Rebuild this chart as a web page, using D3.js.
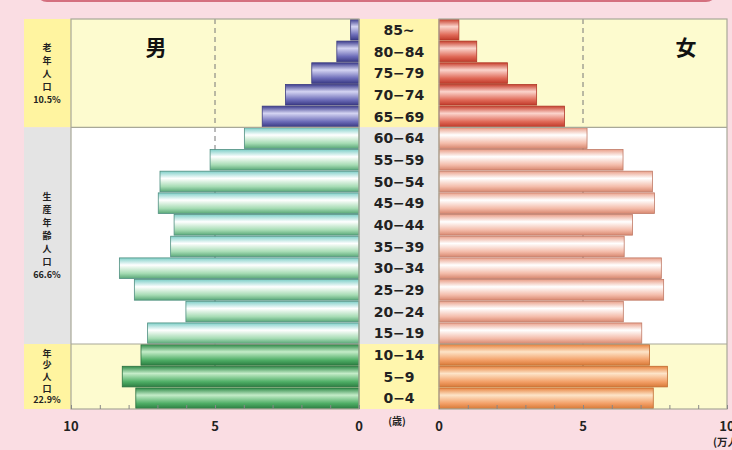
<!DOCTYPE html>
<html>
<head>
<meta charset="utf-8">
<script src="https://cdn.jsdelivr.net/npm/d3@7"></script>
<style>
  body { margin: 0; background: #fadde3; }
  svg { display: block; font-family: "Noto Sans CJK JP", "DejaVu Sans", sans-serif; }
</style>
</head>
<body>
<svg id="chart"></svg>
<script>
// age groups, oldest first (top to bottom)
const ages = ['85~', '80−84', '75−79', '70−74', '65−69', '60−64', '55−59', '50−54', '45−49',
  '40−44', '35−39', '30−34', '25−29', '20−24', '15−19', '10−14', '5−9', '0−4']
// population, 万人
const male = [0.29, 0.77, 1.64, 2.55, 3.36, 3.98, 5.17, 6.91, 6.97, 6.42, 6.54, 8.32, 7.8, 6.01, 7.34, 7.57, 8.22, 7.75]
const female = [0.69, 1.31, 2.38, 3.39, 4.36, 5.14, 6.39, 7.41, 7.48, 6.72, 6.43, 7.72, 7.8, 6.4, 7.04, 7.31, 7.93, 7.44]

// age bands: name, share, first and last group
const groups = [
  { key: 'old', label: ['老', '年', '人', '口'], pct: '10.5%', from: '85~', to: '65−69', lh: 13 },
  { key: 'work', label: ['生', '産', '年', '齢', '人', '口'], pct: '66.6%', from: '60−64', to: '15−19', lh: 13 },
  { key: 'young', label: ['年', '少', '人', '口'], pct: '22.9%', from: '10−14', to: '0−4', lh: 11.6 }
]
const xTicks = [0, 5, 10]

const width = 732
const height = 450
const plotTop = 19
const plotBottom = 409

const svg = d3.select('#chart').attr('width', width).attr('height', height)

// pink title box edge at the top
svg.append('rect')
  .attr('x', 37).attr('y', -30).attr('width', 679).attr('height', 31)
  .attr('rx', 10)
  .attr('fill', '#fde6ea').attr('stroke', '#d4707f').attr('stroke-width', 2)

const y = d3.scaleBand().domain(ages).range([plotTop, plotBottom]).paddingInner(0.05).paddingOuter(0.02)
const yRow = d3.scaleBand().domain(ages).range([plotTop, plotBottom])
const xL = d3.scaleLinear().domain([0, 10]).range([359, 71])
const xR = d3.scaleLinear().domain([0, 10]).range([439, 727])

const groupOf = i => {
  for (const g of groups) {
    if (i >= ages.indexOf(g.from) && i <= ages.indexOf(g.to)) return g.key
  }
}
const bandY0 = g => yRow(g.from)
const bandY1 = g => yRow(g.to) + yRow.bandwidth()

const plotBg = { old: '#fdfbcf', work: '#ffffff', young: '#fdfbcf' }
const sideBg = { old: '#fff4a0', work: '#e4e4e4', young: '#fff4a0' }
const midBg = { old: '#fff6ad', work: '#e6e6e6', young: '#fff6ad' }

// backgrounds
groups.forEach(g => {
  const y0 = bandY0(g)
  const h = bandY1(g) - y0
  svg.append('rect').attr('x', 24).attr('y', y0).attr('width', 47).attr('height', h).attr('fill', sideBg[g.key])
  svg.append('rect').attr('x', 71).attr('y', y0).attr('width', 288).attr('height', h).attr('fill', plotBg[g.key])
  svg.append('rect').attr('x', 359).attr('y', y0).attr('width', 80).attr('height', h).attr('fill', midBg[g.key])
  svg.append('rect').attr('x', 439).attr('y', y0).attr('width', 288).attr('height', h).attr('fill', plotBg[g.key])
})

// dashed guides at 5
;[xL(5), xR(5)].forEach(x => {
  svg.append('line')
    .attr('x1', x).attr('x2', x).attr('y1', plotTop).attr('y2', plotBottom)
    .attr('stroke', '#777').attr('stroke-dasharray', '5,4').attr('stroke-width', 1)
})

// gradients for the tube-like bars
const palettes = {
  'm-old': ['#3d3d8e', '#d4d4f2', '#6c6cb8', '#3a3a84'],
  'm-work': ['#7fcfc8', '#ffffff', '#a6dcb4', '#5aa878'],
  'm-young': ['#2f8a48', '#c4ecc8', '#4fae66', '#2c7e42'],
  'f-old': ['#c8402e', '#fbd4cc', '#e06a58', '#c03a2a'],
  'f-work': ['#eaa08a', '#ffffff', '#f4bcaa', '#d88870'],
  'f-young': ['#e88440', '#fde4c8', '#f3a068', '#d87a38']
}
const defs = svg.append('defs')
Object.entries(palettes).forEach(([id, c]) => {
  const lg = defs.append('linearGradient').attr('id', id)
    .attr('x1', 0).attr('x2', 0).attr('y1', 0).attr('y2', 1)
  lg.append('stop').attr('offset', '0%').attr('stop-color', c[0])
  lg.append('stop').attr('offset', '35%').attr('stop-color', c[1])
  lg.append('stop').attr('offset', '75%').attr('stop-color', c[2])
  lg.append('stop').attr('offset', '100%').attr('stop-color', c[3])
})
const edge = { old: ['#3a3a80', '#b03828'], work: ['#4f8f80', '#c07a66'], young: ['#2a7040', '#c06a30'] }

svg.append('g').selectAll('rect')
  .data(male)
  .join('rect')
  .attr('x', d => xL(d))
  .attr('y', (d, i) => y(ages[i]))
  .attr('width', d => xL(0) - xL(d))
  .attr('height', y.bandwidth())
  .attr('fill', (d, i) => `url(#m-${groupOf(i)})`)
  .attr('stroke', (d, i) => edge[groupOf(i)][0])
  .attr('stroke-width', 0.8)

svg.append('g').selectAll('rect')
  .data(female)
  .join('rect')
  .attr('x', xR(0))
  .attr('y', (d, i) => y(ages[i]))
  .attr('width', d => xR(d) - xR(0))
  .attr('height', y.bandwidth())
  .attr('fill', (d, i) => `url(#f-${groupOf(i)})`)
  .attr('stroke', (d, i) => edge[groupOf(i)][1])
  .attr('stroke-width', 0.8)

// frame lines
const frame = svg.append('g').attr('stroke', '#a8a898').attr('fill', 'none').attr('stroke-width', 1.2)
frame.append('rect').attr('x', 71).attr('y', plotTop).attr('width', 288).attr('height', plotBottom - plotTop)
frame.append('rect').attr('x', 439).attr('y', plotTop).attr('width', 288).attr('height', plotBottom - plotTop)
groups.slice(1).forEach(g => {
  frame.append('line').attr('x1', 71).attr('x2', 359).attr('y1', bandY0(g)).attr('y2', bandY0(g))
  frame.append('line').attr('x1', 439).attr('x2', 727).attr('y1', bandY0(g)).attr('y2', bandY0(g))
})

// bottom axes, ticks pointing inward
const axL = svg.append('g').attr('transform', `translate(0,${plotBottom})`)
  .call(d3.axisTop(xL).ticks(10).tickSize(4).tickFormat(''))
const axR = svg.append('g').attr('transform', `translate(0,${plotBottom})`)
  .call(d3.axisTop(xR).ticks(10).tickSize(4).tickFormat(''))
;[axL, axR].forEach(a => {
  a.select('.domain').remove()
  a.selectAll('line').attr('stroke', '#888')
})

const tickText = svg.append('g')
  .attr('font-size', 13).attr('font-weight', 'bold').attr('fill', '#222').attr('text-anchor', 'middle')
xTicks.forEach(t => {
  tickText.append('text').attr('x', xL(t)).attr('y', 431).text(t)
  tickText.append('text').attr('x', xR(t)).attr('y', 431).text(t)
})
svg.append('text').attr('x', 713).attr('y', 446)
  .attr('font-size', 10.5).attr('font-weight', 'bold').attr('fill', '#222').text('(万人)')
svg.append('text').attr('x', 397).attr('y', 425).attr('text-anchor', 'middle')
  .attr('font-size', 10).attr('font-weight', 'bold').attr('fill', '#222').text('(歳)')

// age labels
svg.append('g').selectAll('text')
  .data(ages)
  .join('text')
  .attr('x', 399)
  .attr('y', d => yRow(d) + yRow.bandwidth() / 2 + 5)
  .attr('text-anchor', 'middle')
  .attr('font-family', 'DejaVu Sans, sans-serif')
  .attr('font-size', 14).attr('font-weight', 'bold').attr('fill', '#222')
  .text(d => d)

// side labels, one character per line
groups.forEach(g => {
  const lines = g.label.concat([g.pct])
  const mid = (bandY0(g) + bandY1(g)) / 2
  const y0 = mid - (lines.length - 1) * g.lh / 2 + 3.5
  svg.append('g').selectAll('text')
    .data(lines)
    .join('text')
    .attr('x', 47)
    .attr('y', (d, i) => y0 + i * g.lh)
    .attr('text-anchor', 'middle')
    .attr('font-size', 9)
    .attr('font-weight', 'bold').attr('fill', '#222')
    .text(d => d)
})

// sex titles
svg.append('text').attr('x', 156).attr('y', 55).attr('text-anchor', 'middle')
  .attr('font-size', 21).attr('font-weight', 'bold').attr('fill', '#111').text('男')
svg.append('text').attr('x', 686).attr('y', 55).attr('text-anchor', 'middle')
  .attr('font-size', 21).attr('font-weight', 'bold').attr('fill', '#111').text('女')
</script>
</body>
</html>
